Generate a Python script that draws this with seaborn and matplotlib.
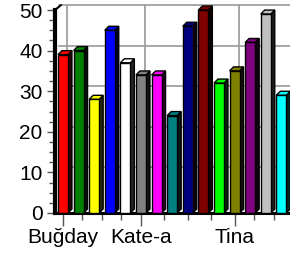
import matplotlib
matplotlib.use("Agg")
import matplotlib.pyplot as plt
import matplotlib.transforms as mtransforms
from matplotlib.patches import Polygon
from matplotlib.ticker import MultipleLocator, FixedLocator
import numpy as np
import pandas as pd
import seaborn as sns

# data
bar_ids = list(range(15))
values = [39, 40, 28, 45, 37, 34, 34, 24, 46, 50, 32, 35, 42, 49, 29]
colors = ['#FF0000', '#008000', '#FFFF00', '#0000FF', '#FFFFFF',
          '#808080', '#FF00FF', '#008080', '#000080', '#800000',
          '#00FF00', '#808000', '#800080', '#C0C0C0', '#00FFFF']
label_pos = [0, 5, 11]
labels = ['Buğday', 'Kate-a', 'Tina']

sns.set_theme(style='white')
plt.rcParams['font.family'] = ['Liberation Sans', 'DejaVu Sans']

W, H = 290, 257
fig = plt.figure(figsize=(W / 100, H / 100), dpi=100)
ax_left, ax_bottom = 55, 44
xmin, xmax = -0.51, 15.0
px_per_bar = 15.6
ax_w = (xmax - xmin) * px_per_bar
ax_h = 203
ax = fig.add_axes([ax_left / W, ax_bottom / H, ax_w / W, ax_h / H])

df = pd.DataFrame({'bar': bar_ids, 'value': values})
sns.barplot(data=df, x='bar', y='value', hue='bar', palette=colors,
            legend=False, width=0.64, edgecolor='black', linewidth=1.0,
            saturation=1, ax=ax, zorder=3)

ax.set_xlim(xmin, xmax)
ax.set_ylim(0, 50)

# 3D depth (in data units) for top and side faces
dx = 4 / px_per_bar
dy = 4 / (ax_h / 50)
for p, c in zip(list(ax.patches), colors):
    x0, w, h = p.get_x(), p.get_width(), p.get_height()
    dark = tuple(v * 0.15 for v in matplotlib.colors.to_rgb(c))
    side = Polygon([(x0 + w, 0), (x0 + w, h), (x0 + w + dx, h + dy),
                    (x0 + w + dx, dy)], closed=True, facecolor=dark,
                   edgecolor='black', lw=1.0, zorder=2.9, clip_on=False)
    top = Polygon([(x0, h), (x0 + dx, h + dy), (x0 + w + dx, h + dy),
                   (x0 + w, h)], closed=True, facecolor=c,
                  edgecolor='black', lw=1.0, zorder=2.9, clip_on=False)
    ax.add_patch(side)
    ax.add_patch(top)

# back-wall grid, pushed back by the depth offset
shift = mtransforms.ScaledTranslation(4 / 100, 5 / 100, fig.dpi_scale_trans)
for v in np.arange(10, 51, 10):
    ax.plot([0, 1], [v, v], color='#a0a0a0', lw=1.3, zorder=1,
            clip_on=False, transform=ax.get_yaxis_transform() + shift)
for v in label_pos:
    ax.plot([v, v], [0, 1], color='#a0a0a0', lw=1.3, zorder=1,
            clip_on=False, transform=ax.get_xaxis_transform() + shift)

# wall top corner
ax.plot([0, 0.025], [1.0, 1.0 + 5 / ax_h], transform=ax.transAxes,
        color='black', lw=1.5, clip_on=False)

for s in ['top', 'right']:
    ax.spines[s].set_visible(False)
ax.spines['left'].set_linewidth(3.0)
ax.spines['bottom'].set_linewidth(2.2)
ax.spines['left'].set_color('black')
ax.spines['bottom'].set_color('black')

ax.yaxis.set_major_locator(MultipleLocator(10))
ax.yaxis.set_minor_locator(MultipleLocator(2.5))
minor_x = np.concatenate([np.linspace(0, 5, 5), np.linspace(5, 11, 5),
                          np.arange(11, 15, 1.25)])
ax.xaxis.set_major_locator(FixedLocator(label_pos))
ax.xaxis.set_minor_locator(FixedLocator(minor_x))
ax.set_xticklabels(labels)

ax.tick_params(axis='both', which='both', direction='out', color='#555555',
               bottom=True, left=True, labelsize=15, labelcolor='black')
ax.tick_params(axis='y', which='major', length=6, width=1, pad=3)
ax.tick_params(axis='y', which='minor', length=4, width=1)
ax.tick_params(axis='x', which='major', length=9, width=1, pad=2)
ax.tick_params(axis='x', which='minor', length=5, width=1)
ax.set_xlabel('')
ax.set_ylabel('')

fig.savefig('out.png', dpi=100)
